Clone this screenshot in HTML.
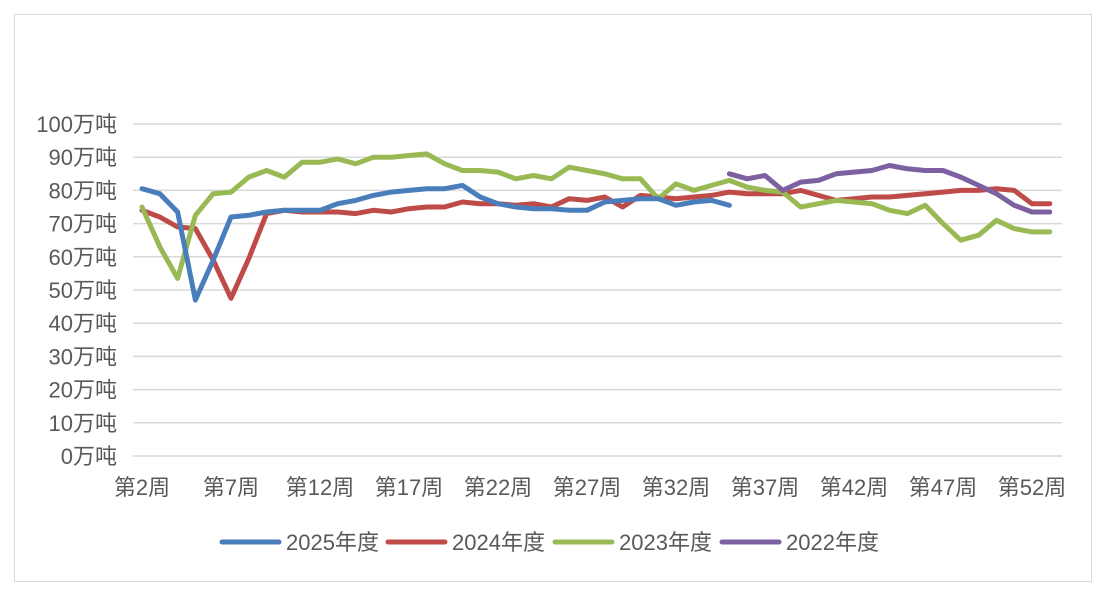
<!DOCTYPE html>
<html><head><meta charset="utf-8"><style>
body{margin:0;background:#fff;}
svg text{font-family:"Liberation Sans","Noto Sans CJK SC",sans-serif;fill:#595959;font-size:22px;}
</style></head><body>
<svg id="chart" width="1102" height="597">
<rect x="14.5" y="14.5" width="1077" height="567" fill="#fff" stroke="#d9d9d9"/>
<g id="grid"></g><g id="xl"></g><g id="lines"></g><g id="legend"></g>
</svg>
<script>
const weeks = [];
for (let w = 2; w <= 53; w++) weeks.push(w);
const yTicks = [0,10,20,30,40,50,60,70,80,90,100];
const xLabelWeeks = [2,7,12,17,22,27,32,37,42,47,52];
const seriesNames = ["2025年度","2024年度","2023年度","2022年度"];
const colors = ["#4a7ebb","#be4b48","#98b954","#7d60a0"];
const s2025 = [80.5,79,73.5,47,59,72,72.5,73.5,74,74,74,76,77,78.5,79.5,80,80.5,80.5,81.5,78,76,75,74.5,74.5,74,74,76.5,77,77.5,77.5,75.5,76.5,77,75.5];
const s2024 = [74,72,69,68.5,59,47.5,59.5,73,74,73.5,73.5,73.5,73,74,73.5,74.5,75,75,76.5,76,76,75.5,76,75,77.5,77,78,75,78.5,78,77.5,78,78.5,79.5,79,79,79,80,78.5,77,77.5,78,78,78.5,79,79.5,80,80,80.5,80,76,76];
const s2023 = [75,63,53.5,72.5,79,79.5,84,86,84,88.5,88.5,89.5,88,90,90,90.5,91,88,86,86,85.5,83.5,84.5,83.5,87,86,85,83.5,83.5,77.5,82,80,81.5,83,81,80,79.5,75,76,77,76.5,76,74,73,75.5,70,65,66.5,71,68.5,67.5,67.5];
const s2022Start = 35;
const s2022 = [85,83.5,84.5,80,82.5,83,85,85.5,86,87.5,86.5,86,86,84,81.5,79,75.5,73.5,73.5];

const NS="http://www.w3.org/2000/svg";
const X0=142, DX=17.8, Y0=456, YS=3.32;
const xs = w => X0 + (w-2)*DX;
const ys = v => Y0 - v*YS;
function mk(tag, attrs, parent){const e=document.createElementNS(NS,tag);for(const k in attrs)e.setAttribute(k,attrs[k]);parent.appendChild(e);return e;}
const grid=document.getElementById('grid');
yTicks.forEach(v=>{
  const l=mk('line',{x1:133,x2:1062,y1:ys(v),y2:ys(v),stroke:'#d9d9d9','stroke-width':1.5},grid);
  
  
  const t=mk('text',{x:117,y:ys(v)+8,'text-anchor':'end'},grid);
  t.textContent=v+'万吨';
  
  
});
const xl=document.getElementById('xl');
xLabelWeeks.forEach(w=>{
  const t=mk('text',{x:xs(w),y:495,'text-anchor':'middle'},xl);
  t.textContent='第'+w+'周';
  
  
});
const lines=document.getElementById('lines');
function draw(data, startWeek, color, name){
  const pts=data.map((v,i)=>xs(startWeek+i).toFixed(1)+','+ys(v).toFixed(1)).join(' ');
  const p=mk('polyline',{points:pts,fill:'none',stroke:color,'stroke-width':5,'stroke-linejoin':'round','stroke-linecap':'round'},lines);
  
  
}
draw(s2024,2,colors[1],'series-2024-line');
draw(s2023,2,colors[2],'series-2023-line');
draw(s2025,2,colors[0],'series-2025-line');
draw(s2022,s2022Start,colors[3],'series-2022-line');
const lg=document.getElementById('legend');
const lx=[222,388,555,722];
seriesNames.forEach((n,i)=>{
  const g=mk('g',{},lg);
  
  
  mk('line',{x1:lx[i],x2:lx[i]+57,y1:542,y2:542,stroke:colors[i],'stroke-width':5,'stroke-linecap':'round'},g);
  const t=mk('text',{x:lx[i]+64,y:550},g);
  t.textContent=n;
});
</script>
</body></html>
